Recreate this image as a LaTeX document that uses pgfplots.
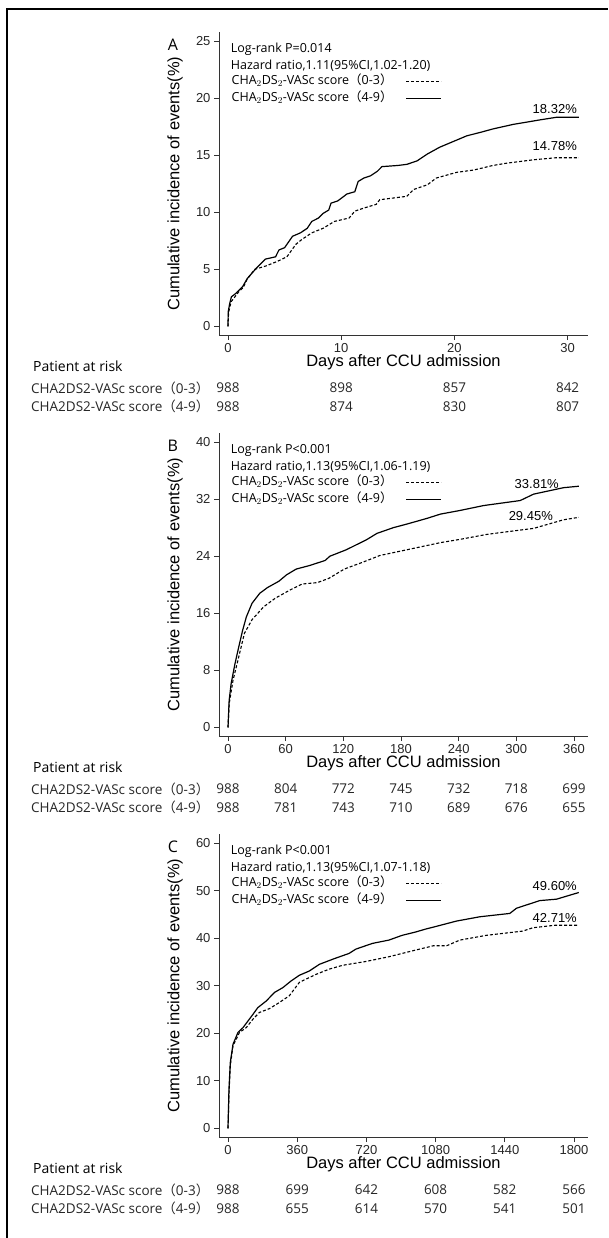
\documentclass[border=0pt]{standalone}
\usepackage{pgfplots}
\usepackage{pgfplotstable}
\pgfplotsset{compat=1.18}
\usepackage{fontspec}
\setmainfont{Open Sans}
\newfontfamily\arial{Liberation Sans}
\newfontfamily\cjk{Noto Sans CJK SC}

\newcommand\tickfont{\arial\fontsize{13}{13}\selectfont}
\newcommand\titlefont{\arial\fontsize{16.5}{16.5}\selectfont}
\newcommand\legfont{\fontsize{12.5}{14}\selectfont}
\newcommand\riskfont{\fontsize{13.5}{15}\selectfont}
\newcommand\lowrisk{CHA2DS2-VASc score{\cjk （}0-3{\cjk ）}}
\newcommand\highrisk{CHA2DS2-VASc score{\cjk （}4-9{\cjk ）}}
\newcommand\lowleg{CHA$_2$DS$_2$-VASc score{\cjk （}0-3{\cjk ）}}
\newcommand\highleg{CHA$_2$DS$_2$-VASc score{\cjk （}4-9{\cjk ）}}

% Panel A (30 days)
\pgfplotstableread{
x y
0 0
0.02 1.3
0.15 2.0
0.3 2.6
0.7 2.9
1.3 3.5
1.7 4.2
2.5 5.1
3.3 5.9
4.2 6.1
4.5 6.7
5.0 6.9
5.7 7.9
6.4 8.2
7.0 8.6
7.4 9.2
8.0 9.5
8.4 9.9
8.9 10.2
9.1 10.8
9.7 11.0
10.5 11.6
11.2 11.8
11.5 12.7
12.0 13.0
12.6 13.2
13.2 13.6
13.6 14.0
15.0 14.1
15.8 14.2
16.7 14.5
17.6 15.1
18.7 15.7
19.9 16.2
21.1 16.7
22.3 17.0
23.4 17.3
25.2 17.7
27.6 18.1
29.0 18.32
31.0 18.32
}\Ahigh
\pgfplotstableread{
x y
0 0
0.05 1.2
0.17 1.75
0.3 2.2
1.0 3.1
1.34 3.4
1.67 4.1
2.35 5.0
3.35 5.3
4.36 5.7
5.2 6.1
6.0 7.2
6.5 7.6
7.4 8.2
8.4 8.6
9.4 9.2
10.7 9.5
11.2 10.1
12.1 10.4
13.1 10.7
13.4 11.1
15.8 11.4
16.4 12.0
17.6 12.4
18.4 13.0
20.2 13.5
21.7 13.7
23.4 14.1
24.6 14.3
27.0 14.6
29.0 14.78
31.0 14.78
}\Alow
% Panel B (1 year)
\pgfplotstableread{
x y
0 0
1.2 3.8
3.2 6.1
7.2 8.9
11.2 11.3
15.2 13.6
19.1 15.5
25 17.4
33 18.8
41 19.6
53 20.5
61 21.4
71 22.2
85 22.7
101 23.4
106 24.0
123 24.9
144 26.3
155 27.2
172 28.0
186 28.5
207 29.3
221 29.9
241 30.4
266 31.1
304 31.8
318 32.7
349 33.6
365 33.81
}\Bhigh
\pgfplotstableread{
x y
0 0
1.2 3.3
5.2 6.6
11.2 9.9
17.1 13.2
25 15.1
37 16.9
49 18.1
65 19.3
77 20.1
93 20.3
105 20.9
121 22.2
141 23.2
158 24.1
179 24.7
221 25.9
241 26.35
269 27.05
283 27.3
318 27.9
349 29.1
365 29.45
}\Blow
% Panel C (5 years)
\pgfplotstableread{
x y
0 0
5 8.3
12 13.9
26 17.7
52 20.2
78 21.2
104 22.6
130 24.0
155 25.4
199 26.8
242 28.6
285 29.6
328 31.0
371 32.2
423 33.1
475 34.5
553 35.7
630 36.8
665 37.7
751 38.9
837 39.6
906 40.6
976 41.3
1027 41.9
1085 42.5
1189 43.6
1310 44.5
1466 45.2
1501 46.3
1622 47.9
1709 48.2
1825 49.6
}\Chigh
\pgfplotstableread{
x y
0 0
5 6.9
12 13.2
26 17.4
60 20.2
95 21.2
130 23.0
164 24.4
216 25.2
268 26.5
319 27.9
371 30.7
406 31.4
458 32.4
527 33.5
596 34.3
717 35.1
837 36.1
976 37.5
1068 38.4
1137 38.4
1206 39.6
1344 40.6
1535 41.5
1587 42.2
1700 42.71
1825 42.71
}\Clow

\tikzset{
  lowline/.style={black, line width=1.1pt, dash pattern=on 3pt off 2pt},
  highline/.style={black, line width=1.2pt},
  riskno/.style={font=\riskfont, text=black!85},
}
\pgfplotsset{
  kmaxis/.style={
    scale only axis, width=369pt, height=302.7pt,
    anchor=south west,
    axis lines=left,
    axis line style={draw=black!80, line width=0.9pt, -},
    tick align=outside, major tick length=5pt,
    tick style={draw=black!80, line width=0.9pt},
    tick label style={font=\tickfont, text=black!85},
    /pgf/number format/assume math mode=true,
    /pgf/number format/1000 sep={},
    xlabel={Days after CCU admission},
    xlabel style={font=\titlefont, at={(axis description cs:0.5,-0.089)}, anchor=center},
    ylabel={Cumulative incidence of events(\%)},
    ylabel style={font=\titlefont, at={(axis description cs:-0.119,0.5)}, anchor=center},
    clip=false,
    legend cell align=left,
    legend plot pos=right,
    legend image code/.code={\draw[##1] (0pt,0pt) -- (35pt,0pt);},
    legend style={draw=none, fill=none, inner sep=0pt, outer sep=0pt,
      at={(axis description cs:0.0317,0.858)}, anchor=north west,
      font=\legfont, row sep=4pt, column sep=12pt,
      nodes={inner sep=1pt, text height=8.5pt, text depth=2.5pt}},
  },
}

\begin{document}
\begin{tikzpicture}
\useasboundingbox (0,0) rectangle (608pt,-1238pt);
\draw[line width=2pt] (7pt,-1238pt) -- (7pt,-9pt) -- (608pt,-9pt);

% ---------------- Panel A ----------------
\begin{axis}[kmaxis, at={(219pt,-335pt)},
  xmin=-0.795, xmax=31.8, ymin=-0.747, ymax=25.764,
  xtick={0,10,20,30}, ytick={0,5,10,15,20,25}]
\addplot[lowline] table[x=x,y=y] {\Alow}; \addlegendentry{\lowleg}
\addplot[highline] table[x=x,y=y] {\Ahigh}; \addlegendentry{\highleg}
\node[anchor=west, font=\legfont, inner sep=0pt] at (axis description cs:0.0317,0.9438) {Log-rank P=0.014};
\node[anchor=west, font=\legfont, inner sep=0pt] at (axis description cs:0.0317,0.8887) {Hazard ratio,1.11(95\%CI,1.02-1.20)};
\node[font=\fontsize{16}{16}\selectfont] at (axis description cs:-0.125,0.958) {A};
\node[anchor=east, font=\tickfont, inner sep=0pt] at (axis cs:30.83,19.02) {18.32\%};
\node[anchor=east, font=\tickfont, inner sep=0pt] at (axis cs:30.83,15.8) {14.78\%};
\node[riskno, yshift=-61.5pt] at (axis cs:0,0) {988};
\node[riskno, yshift=-61.5pt] at (axis cs:10,0) {898};
\node[riskno, yshift=-61.5pt] at (axis cs:20,0) {857};
\node[riskno, yshift=-61.5pt] at (axis cs:30,0) {842};
\node[riskno, yshift=-80.2pt] at (axis cs:0,0) {988};
\node[riskno, yshift=-80.2pt] at (axis cs:10,0) {874};
\node[riskno, yshift=-80.2pt] at (axis cs:20,0) {830};
\node[riskno, yshift=-80.2pt] at (axis cs:30,0) {807};
\end{axis}
\node[anchor=west, font=\fontsize{14}{16}\selectfont, inner sep=0pt] at (33pt,-366.7pt) {Patient at risk};
\node[anchor=west, riskno, inner sep=0pt] at (31pt,-388pt) {\lowrisk};
\node[anchor=west, riskno, inner sep=0pt] at (31pt,-406.7pt) {\highrisk};

% ---------------- Panel B ----------------
\begin{axis}[kmaxis, at={(219pt,-736pt)},
  xmin=-9.364, xmax=374.57, ymin=-1.195, ymax=41.223,
  xtick={0,60,120,180,240,300,360}, ytick={0,8,16,24,32,40}]
\addplot[lowline] table[x=x,y=y] {\Blow}; \addlegendentry{\lowleg}
\addplot[highline] table[x=x,y=y] {\Bhigh}; \addlegendentry{\highleg}
\node[anchor=west, font=\legfont, inner sep=0pt] at (axis description cs:0.0317,0.9438) {Log-rank P<0.001};
\node[anchor=west, font=\legfont, inner sep=0pt] at (axis description cs:0.0317,0.8887) {Hazard ratio,1.13(95\%CI,1.06-1.19)};
\node[font=\fontsize{16}{16}\selectfont] at (axis description cs:-0.125,0.958) {B};
\node[anchor=east, font=\tickfont, inner sep=0pt] at (axis cs:344.4,34.1) {33.81\%};
\node[anchor=east, font=\tickfont, inner sep=0pt] at (axis cs:338.2,29.64) {29.45\%};
\node[riskno, yshift=-61.5pt] at (axis cs:0,0) {988};
\node[riskno, yshift=-61.5pt] at (axis cs:60,0) {804};
\node[riskno, yshift=-61.5pt] at (axis cs:120,0) {772};
\node[riskno, yshift=-61.5pt] at (axis cs:180,0) {745};
\node[riskno, yshift=-61.5pt] at (axis cs:240,0) {732};
\node[riskno, yshift=-61.5pt] at (axis cs:300,0) {718};
\node[riskno, yshift=-61.5pt] at (axis cs:360,0) {699};
\node[riskno, yshift=-80.2pt] at (axis cs:0,0) {988};
\node[riskno, yshift=-80.2pt] at (axis cs:60,0) {781};
\node[riskno, yshift=-80.2pt] at (axis cs:120,0) {743};
\node[riskno, yshift=-80.2pt] at (axis cs:180,0) {710};
\node[riskno, yshift=-80.2pt] at (axis cs:240,0) {689};
\node[riskno, yshift=-80.2pt] at (axis cs:300,0) {676};
\node[riskno, yshift=-80.2pt] at (axis cs:360,0) {655};
\end{axis}
\node[anchor=west, font=\fontsize{14}{16}\selectfont, inner sep=0pt] at (33pt,-767.7pt) {Patient at risk};
\node[anchor=west, riskno, inner sep=0pt] at (31pt,-789pt) {\lowrisk};
\node[anchor=west, riskno, inner sep=0pt] at (31pt,-807.7pt) {\highrisk};

% ---------------- Panel C ----------------
\begin{axis}[kmaxis, at={(219pt,-1137pt)},
  xmin=-46.82, xmax=1872.9, ymin=-1.793, ymax=61.835,
  xtick={0,360,720,1080,1440,1800}, ytick={0,10,20,30,40,50,60}]
\addplot[lowline] table[x=x,y=y] {\Clow}; \addlegendentry{\lowleg}
\addplot[highline] table[x=x,y=y] {\Chigh}; \addlegendentry{\highleg}
\node[anchor=west, font=\legfont, inner sep=0pt] at (axis description cs:0.0317,0.9438) {Log-rank P<0.001};
\node[anchor=west, font=\legfont, inner sep=0pt] at (axis description cs:0.0317,0.8887) {Hazard ratio,1.13(95\%CI,1.07-1.18)};
\node[font=\fontsize{16}{16}\selectfont] at (axis description cs:-0.125,0.958) {C};
\node[anchor=east, font=\tickfont, inner sep=0pt] at (axis cs:1815.6,50.86) {49.60\%};
\node[anchor=east, font=\tickfont, inner sep=0pt] at (axis cs:1815.6,44.33) {42.71\%};
\node[riskno, yshift=-61.5pt] at (axis cs:0,0) {988};
\node[riskno, yshift=-61.5pt] at (axis cs:360,0) {699};
\node[riskno, yshift=-61.5pt] at (axis cs:720,0) {642};
\node[riskno, yshift=-61.5pt] at (axis cs:1080,0) {608};
\node[riskno, yshift=-61.5pt] at (axis cs:1440,0) {582};
\node[riskno, yshift=-61.5pt] at (axis cs:1800,0) {566};
\node[riskno, yshift=-80.2pt] at (axis cs:0,0) {988};
\node[riskno, yshift=-80.2pt] at (axis cs:360,0) {655};
\node[riskno, yshift=-80.2pt] at (axis cs:720,0) {614};
\node[riskno, yshift=-80.2pt] at (axis cs:1080,0) {570};
\node[riskno, yshift=-80.2pt] at (axis cs:1440,0) {541};
\node[riskno, yshift=-80.2pt] at (axis cs:1800,0) {501};
\end{axis}
\node[anchor=west, font=\fontsize{14}{16}\selectfont, inner sep=0pt] at (33pt,-1168.7pt) {Patient at risk};
\node[anchor=west, riskno, inner sep=0pt] at (31pt,-1190pt) {\lowrisk};
\node[anchor=west, riskno, inner sep=0pt] at (31pt,-1208.7pt) {\highrisk};
\end{tikzpicture}
\end{document}
